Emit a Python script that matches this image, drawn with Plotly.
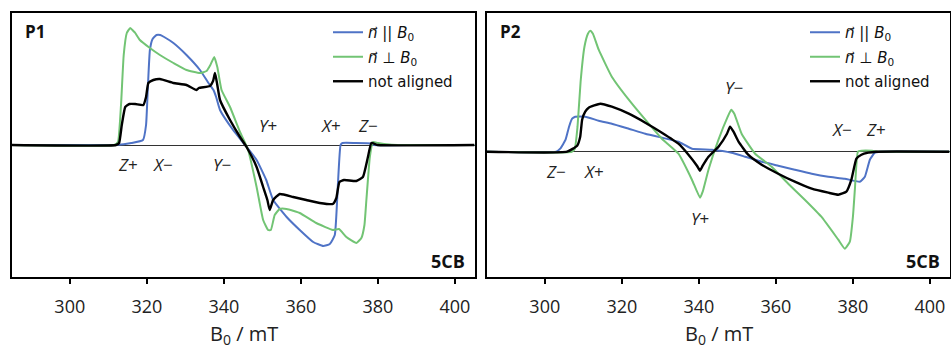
import plotly.graph_objects as go

# ---------------- data (field in mT, signal in arbitrary units) ----------------
p1_par_x = [285, 300, 312, 316, 319, 319.8, 320.3, 320.8, 321.5, 322.5, 323.5, 324.5, 326.9, 330.3, 333.8, 336, 337.3, 338, 339,
            342.4, 345.5, 348.5, 351, 352.8, 356.3, 359.7, 363.2, 365.8, 367.5, 368.8, 369.6, 370.3, 370.8, 374, 378.3, 379, 390, 405]
p1_par_y = [0, 0, 0, 2, 5, 20, 60, 95, 106, 110, 110, 108, 102, 90, 75, 62, 55, 48, 35,
            15, 0, -15, -35, -55, -72, -85, -97, -101, -99, -90, -40, 0, 2, 2, 1.5, 0, 0, 0]

p1_perp_x = [285, 311.5, 312.5, 313.3, 314, 314.8, 315.7, 316.5, 317, 318.2, 320.8, 323.4, 326.9, 330.3, 333.8, 335.5, 336.5,
             337.5, 338.3, 339.4, 341.6, 344.2, 346.3, 348.5, 350.2, 351.5, 352.2, 353.2, 354.5, 356.3, 359.7, 364, 368.3,
             369.9, 371.8, 374.4, 375.7, 376.5, 377, 377.9, 378.7, 380, 383, 386, 405]
p1_perp_y = [0, 0, 3, 40, 90, 112, 117, 114, 112, 105, 97, 90, 82, 75, 72, 74, 80,
             88, 78, 55, 38, 13, -5, -42, -75, -85, -85, -70, -64, -64, -68, -78, -85,
             -84, -92, -98, -93, -80, -55, -12, 3, 2, 0.5, 0, 0]

p1_na_x = [285, 312, 312.8, 313.5, 314.4, 315.5, 317, 319.1, 319.8, 320.4, 321.7, 323.4, 326.9, 330.3, 332.9, 333.5, 336.4,
           337.2, 337.7, 338.3, 339, 341.6, 344.2, 345.9, 348.5, 350.2, 351.3, 351.9, 352.8, 354.5, 358, 361.4, 364.9,
           368.3, 369.2, 370, 371.2, 374.4, 376.1, 377.4, 378.3, 380, 405]
p1_na_y = [0, 0, 2, 20, 38, 41, 41, 40, 48, 62, 65, 66, 62, 60, 55, 57, 59,
           64, 72, 60, 45, 25, 8, -2, -22, -42, -55, -65, -55, -49, -52, -55, -58,
           -59, -53, -37, -35, -36, -32, -12, 2, 0, 0]

p2_par_x = [285, 303, 304, 305.4, 306.3, 307.1, 307.9, 310.5, 314, 317.4, 321.8, 326.1, 330.4, 334.7, 338.2, 343.4, 348.5,
            352, 356.3, 360.6, 364.9, 369.3, 373.6, 377.9, 381.8, 383.1, 384.4, 385.7, 387, 405]
p2_par_y = [0, 0, 3, 12, 25, 33, 35, 35, 31, 28, 23, 18, 14, 10, 3, 2, -1,
            -5, -10, -14, -18, -22, -25, -27, -30, -25, -8, -1, 0, 0]

p2_perp_x = [285, 307, 307.8, 308.5, 309.3, 310.3, 311.2, 311.8, 312.5, 314, 317.4, 321.8, 326.1, 330.4, 334.7, 338.2, 340.3,
             341, 342.5, 345.1, 347.5, 348.4, 349.2, 351.1, 354.6, 358.9, 363.2, 367.5, 371.8, 376.2, 377.9, 379.2, 380,
             380.5, 381.3, 382.2, 385, 387, 405]
p2_perp_y = [0, 0, 3, 25, 70, 105, 118, 121, 118, 102, 75, 52, 32, 13, -2, -28, -46,
             -40, -18, 12, 35, 42, 38, 18, -2, -15, -32, -48, -65, -88, -97, -90, -65,
             -38, 0, 1, 1, 0, 0]

p2_na_x = [285, 305.8, 308.4, 309.2, 309.7, 310.5, 311.4, 314.4, 317.4, 321.8, 326.1, 330.4, 334.7, 337.3, 339.5, 340.3,
           341, 342.5, 345.1, 347.3, 348.1, 349, 350.3, 352.8, 356.3, 360.6, 364.9, 369.3, 373.6, 376.2, 378.3, 379.6,
           380.9, 382.2, 384, 386, 405]
p2_na_y = [0, 0, 6, 15, 32, 40, 44, 48, 45, 38, 29, 19, 8, -3, -14, -19,
           -14, -5, 5, 18, 25, 20, 10, -3, -13, -22, -30, -37, -41, -43, -40, -28,
           -7, -3, -1, 0, 0]

x_ticks = [300, 320, 340, 360, 380, 400]
series_names = ["<i>n⃗</i> || <i>B</i><sub>0</sub>", "<i>n⃗</i> ⊥ <i>B</i><sub>0</sub>", "not aligned"]

# annotation labels (text, x, y) per panel
p1_labels = [("<i>Z</i>+", 315.2, -19), ("<i>X</i>−", 324.2, -19), ("<i>Y</i>−", 339.5, -19),
             ("<i>Y</i>+", 351.4, 20), ("<i>X</i>+", 367.7, 20), ("<i>Z</i>−", 377.3, 20)]
p2_labels = [("<i>Z</i>−", 302.8, -20), ("<i>X</i>+", 312.7, -20), ("<i>Y</i>+", 340.4, -67),
             ("<i>Y</i>−", 349.0, 64), ("<i>X</i>−", 377.2, 22), ("<i>Z</i>+", 386.0, 22)]

# ---------------- styling ----------------
BLUE = "#4f73c6"
GREEN = "#72c474"
BLACK = "#000000"
FONT = "Open Sans"
LFONT = "DejaVu Sans"
W, H = 951, 350

fig = go.Figure()

panels = [
    ("x", "y", "legend", [(p1_par_x, p1_par_y), (p1_perp_x, p1_perp_y), (p1_na_x, p1_na_y)]),
    ("x2", "y2", "legend2", [(p2_par_x, p2_par_y), (p2_perp_x, p2_perp_y), (p2_na_x, p2_na_y)]),
]
colors = [BLUE, GREEN, BLACK]
widths = [2, 2, 2.4]
for pi, (xa, ya, lg, data) in enumerate(panels):
    for si, ((xs, ys), name, c, w) in enumerate(zip(data, series_names, colors, widths)):
        fig.add_trace(go.Scatter(x=xs, y=ys, mode="lines", name=name, xaxis=xa, yaxis=ya,
                                 legend=lg, legendgroup=f"g{pi}{si}",
                                 line=dict(color=c, width=w, shape="spline", smoothing=0.4)))

ydom = [1 - 277 / H, 1 - 13 / H]
xaxis_common = dict(range=[285, 405.2], tickvals=x_ticks, ticks="outside", ticklen=5, tickwidth=1.5,
                    tickcolor="black", showline=True, linecolor="black", linewidth=2, mirror=True,
                    showgrid=False, zeroline=False, automargin=False, ticklabelstandoff=7,
                    tickfont=dict(family=FONT, size=18, color="#222"))
yaxis_common = dict(showticklabels=False, ticks="", showline=True, linecolor="black", linewidth=2, mirror=True,
                    showgrid=False, zeroline=True, zerolinecolor="#333", zerolinewidth=1, automargin=False)

legend_common = dict(font=dict(family=LFONT, size=15, color="#111"), bgcolor="rgba(0,0,0,0)",
                     xanchor="left", yanchor="top", tracegroupgap=2, itemwidth=30)

fig.update_layout(
    width=W, height=H, margin=dict(l=0, r=0, t=0, b=0, autoexpand=False),
    paper_bgcolor="white", plot_bgcolor="white",
    xaxis=dict(domain=[12 / W, 475 / W], anchor="y", **xaxis_common),
    xaxis2=dict(domain=[487 / W, 950 / W], anchor="y2", **xaxis_common),
    yaxis=dict(domain=ydom, anchor="x", range=[-132, 132], **yaxis_common),
    yaxis2=dict(domain=ydom, anchor="x2", range=[-125.3, 138.7], **yaxis_common),
    legend=dict(x=328 / W, y=1 - 16 / H, **legend_common),
    legend2=dict(x=805 / W, y=1 - 16 / H, **legend_common),
    showlegend=True,
)

ann = []
for labels, xr, yr in [(p1_labels, "x", "y"), (p2_labels, "x2", "y2")]:
    for t, xv, yv in labels:
        ann.append(dict(text=t, x=xv, y=yv, xref=xr, yref=yr, showarrow=False,
                        font=dict(family=FONT, size=17, color="#222")))
# panel tags
for tag, xr in [("P1", "x domain"), ("P2", "x2 domain")]:
    ann.append(dict(text="<b>" + tag + "</b>", x=0.023, y=1 - 32 / H, xref=xr, yref="paper",
                    xanchor="left", yanchor="middle", showarrow=False,
                    font=dict(family=FONT, size=17, color="#111")))
for xr in ["x domain", "x2 domain"]:
    ann.append(dict(text="<b>5CB</b>", x=0.983, y=1 - 261 / H, xref=xr, yref="paper",
                    xanchor="right", yanchor="middle", showarrow=False,
                    font=dict(family=FONT, size=18, color="#111")))
# axis titles
for xr in ["x domain", "x2 domain"]:
    ann.append(dict(text="B<sub>0</sub> / mT", x=0.5, y=0, xref=xr, yref="paper",
                    xanchor="center", yanchor="bottom", showarrow=False, borderpad=0,
                    font=dict(family=FONT, size=20, color="#222")))
fig.update_layout(annotations=ann)

fig.write_html("out.html", config={"displayModeBar": False},
               post_script="document.body.style.margin='0';")
